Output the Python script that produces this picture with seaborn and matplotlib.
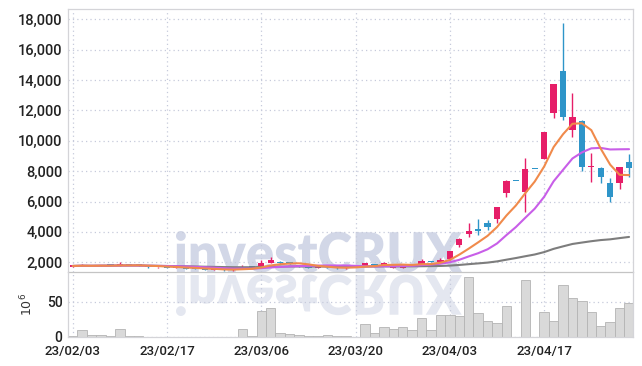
"""
plot.py
-------
Daily candlestick chart with 5/10/60-day moving averages and a volume panel.
Run: python plot.py
"""

import numpy as np
import pandas as pd
import matplotlib
matplotlib.use("Agg")
import matplotlib.pyplot as plt
import seaborn as sns
from matplotlib.textpath import TextPath
from matplotlib.patches import PathPatch
from matplotlib.font_manager import FontProperties
from matplotlib.transforms import Affine2D

# -------------------------------------------------------------------
# Data (KRW, volume in millions of shares), one entry per trading day
# -------------------------------------------------------------------
opens = [1700, 1740, 1790, 1760, 1800, 1780, 1840, 1800, 1720, 1660,
         1690, 1650, 1670, 1600, 1560, 1500, 1540, 1480, 1560, 1650,
         1710, 1940, 2040, 2020, 1800, 1760, 1650, 1680, 1650, 1600,
         1680, 1760, 1890, 1780, 1620, 1650, 1860, 1890, 2040, 1990,
         2200, 3120, 3850, 4180, 4600, 4830, 6540, 7350, 6645, 8120,
         8820, 11800, 14610, 10700, 11320, 8250, 8180, 7240, 7200, 8580]
highs = [1780, 1900, 1800, 1820, 1810, 1990, 1850, 1820, 1730, 1700,
         1700, 1700, 1680, 1620, 1570, 1560, 1550, 1540, 1820, 1700,
         2150, 2340, 2060, 2040, 1820, 1780, 1700, 1720, 1660, 1660,
         1760, 1960, 1900, 2000, 1720, 1830, 1900, 2240, 2060, 2300,
         2760, 3600, 4600, 4830, 4780, 5650, 7400, 7350, 8860, 8120,
         10600, 13750, 17770, 13120, 11350, 9210, 8290, 7530, 8300, 9130]
lows = [1690, 1730, 1750, 1750, 1770, 1770, 1790, 1780, 1650, 1650,
        1640, 1640, 1580, 1530, 1480, 1480, 1460, 1450, 1540, 1620,
        1700, 1930, 1920, 1880, 1700, 1620, 1620, 1640, 1580, 1590,
        1660, 1740, 1810, 1760, 1600, 1640, 1800, 1880, 1990, 1970,
        2150, 3000, 3650, 3800, 4130, 4560, 6280, 7350, 5290, 8120,
        8800, 11475, 11360, 10270, 8030, 7300, 7200, 5990, 6800, 7630]
closes = [1760, 1790, 1760, 1800, 1780, 1840, 1800, 1790, 1660, 1690,
          1650, 1680, 1590, 1550, 1500, 1540, 1480, 1530, 1660, 1640,
          1975, 2150, 1940, 1890, 1710, 1630, 1680, 1660, 1600, 1650,
          1740, 1930, 1830, 1970, 1710, 1800, 1820, 2080, 2010, 2150,
          2740, 3550, 4050, 4080, 4300, 5620, 7350, 7350, 8140, 8120,
          10570, 13730, 11580, 11580, 8290, 8300, 7630, 6320, 8250, 8190]
volumes = [1.5, 10, 2.5, 2.5, 1, 11, 1, 1, 0.3, 0.3,
           0.3, 0.3, 0.3, 0.3, 0.3, 0.3, 0.3, 0.3, 12, 1,
           37, 41, 5, 4, 2.4, 1, 1, 2.4, 1, 1,
           0.5, 18.5, 5, 14, 11, 14, 9.5, 27, 9.5, 31,
           31, 30, 85, 34, 22, 19.5, 44, 0, 80, 0,
           35, 22, 74, 55, 51, 35, 15, 21, 41, 48]

tick_days = [0, 10, 20, 30, 40, 50]
tick_labels = ["23/02/03", "23/02/17", "23/03/06", "23/03/20", "23/04/03", "23/04/17"]
price_ticks = [2000, 4000, 6000, 8000, 10000, 12000, 14000, 16000, 18000]

UP_COLOR = "#e61e68"
DOWN_COLOR = "#2e95c9"
GRID_COLOR = "#c6cadb"

# -------------------------------------------------------------------
# Frame
# -------------------------------------------------------------------
df = pd.DataFrame({"open": opens, "high": highs, "low": lows,
                   "close": closes, "volume": volumes})
df["day"] = np.arange(len(df))
df["ma5"] = df["close"].rolling(5, min_periods=1).mean()
df["ma10"] = df["close"].rolling(10, min_periods=1).mean()
df["ma60"] = df["close"].rolling(60, min_periods=1).mean()

sns.set_theme(style="white")
plt.rcParams["font.family"] = ["Roboto", "DejaVu Sans"]

W, H = 642, 366
fig = plt.figure(figsize=(W / 100, H / 100), dpi=100, facecolor="white")
ax = fig.add_axes([68 / W, 1 - 272 / H, (633 - 68) / W, (272 - 9.3) / H])
ax_vol = fig.add_axes([68 / W, 1 - 337 / H, (633 - 68) / W, (337 - 272) / H])

# -------------------------------------------------------------------
# Watermark (text + mirrored reflection)
# -------------------------------------------------------------------
fp = FontProperties(family="Lato", weight="heavy")
tp = TextPath((0, 0), "investCRUX", size=100, prop=fp)
ext = tp.get_extents()
sx = (462 - 176) / ext.width
sy = 41 / ext.y1
top_tr = Affine2D().translate(-ext.x0, 0).scale(sx, sy).translate(176, H - 272)
bot_tr = Affine2D().translate(-ext.x0, 0).scale(sx, -sy).translate(176, H - 275)
fig.add_artist(PathPatch(tp, transform=top_tr, facecolor="#d2d7e7",
                         edgecolor="none", zorder=-1))
fig.add_artist(PathPatch(tp, transform=bot_tr, facecolor="#e4e7f0",
                         edgecolor="none", zorder=-1))

# -------------------------------------------------------------------
# Candles
# -------------------------------------------------------------------
up = df["close"] > df["open"]
colors = np.where(up, UP_COLOR, DOWN_COLOR)
body_low = df[["open", "close"]].min(axis=1)
body_h = (df["close"] - df["open"]).abs().clip(lower=90)

ax.vlines(df["day"], df["low"], df["high"], colors=colors, linewidth=1.0, zorder=2)
ax.bar(df["day"], body_h, bottom=body_low, width=0.66, color=colors,
       edgecolor="none", zorder=3)

# Moving averages
sns.lineplot(data=df, x="day", y="ma60", color="#7d7d7d", linewidth=1.5, ax=ax, zorder=4)
sns.lineplot(data=df, x="day", y="ma10", color="#c85ee8", linewidth=1.5, ax=ax, zorder=4)
sns.lineplot(data=df, x="day", y="ma5", color="#f08a4b", linewidth=1.5, ax=ax, zorder=4)

# -------------------------------------------------------------------
# Volume
# -------------------------------------------------------------------
sns.barplot(data=df, x="day", y="volume", native_scale=True, color="#d9d9d9",
            saturation=1, width=1.0, edgecolor="#b4b4b4", linewidth=0.6,
            errorbar=None, ax=ax_vol)

# -------------------------------------------------------------------
# Axes styling
# -------------------------------------------------------------------
xlim = (-0.5, 59.42)
for a in (ax, ax_vol):
    a.set_facecolor("none")
    a.set_xlim(*xlim)
    a.set_xticks(tick_days)
    a.grid(True, color=GRID_COLOR, linestyle=(0, (1, 2.5)), linewidth=0.9)
    a.set_axisbelow(True)
    a.tick_params(length=0, pad=4, colors="#222222")
    for s in a.spines.values():
        s.set_color("#d4d4d8")
        s.set_linewidth(0.9)
    a.set_xlabel("")
    a.set_ylabel("")

ax.set_ylim(1362, 18650)
ax.set_yticks(price_ticks)
ax.set_yticklabels([f"{v:,}" for v in price_ticks], fontsize=10.5, fontweight="medium")
ax.set_xticklabels([])
ax.spines["bottom"].set_color("#c4c4c4")

ax_vol.set_ylim(0, 92)
ax_vol.set_yticks([0, 50])
ax_vol.set_yticklabels(["0", "50"], fontsize=10, fontweight="medium")
ax_vol.tick_params(axis="x", pad=6)
ax_vol.set_xticklabels(tick_labels, fontsize=9.5, fontweight="medium")
ax_vol.spines["top"].set_visible(False)
ax_vol.set_ylabel("$10^6$", fontsize=9, color="#333333", labelpad=8)

fig.savefig("out.png", dpi=100)
plt.close(fig)
